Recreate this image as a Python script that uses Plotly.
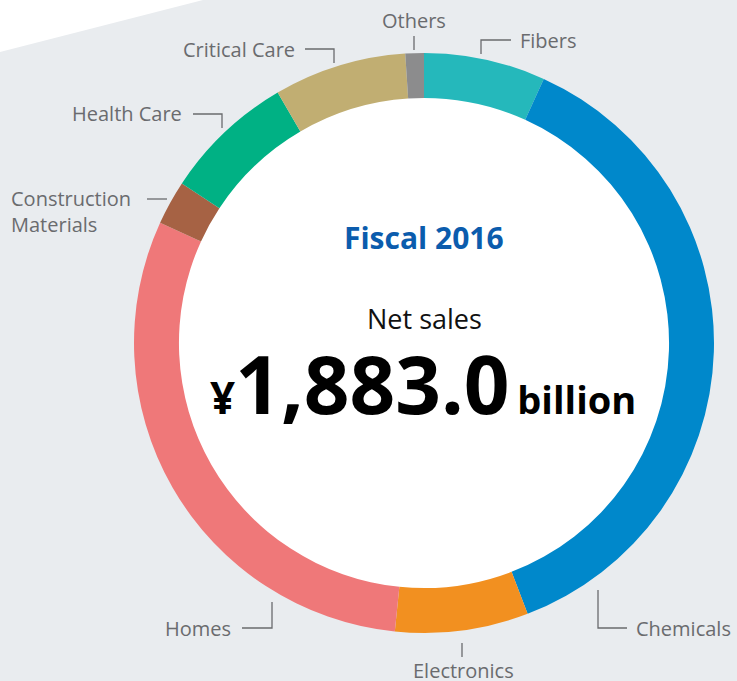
import plotly.graph_objects as go

# Net sales by segment, fiscal 2016 (¥ billion)
segments = ["Fibers", "Chemicals", "Electronics", "Homes",
            "Construction Materials", "Health Care", "Critical Care", "Others"]
sales = [127.6, 704.4, 139.7, 568.7, 46.5, 137.6, 139.1, 19.4]
total_label = "1,883.0"
fiscal_label = "Fiscal 2016"

colors = ["#25b8bb", "#0088cb", "#f29020", "#ef7879",
          "#a66244", "#00b184", "#c1ae72", "#8c8c8d"]

W, H = 737, 681
CX, CY, R = 424, 343, 290          # ring centre and outer radius (px)
HOLE = 0.845
LABEL_GRAY = "#6a6b6e"
FONT = "Open Sans"


def px(x):
    return x / W


def py(y):
    return 1 - y / H


fig = go.Figure()

fig.add_trace(go.Pie(
    labels=segments,
    values=sales,
    sort=False,
    direction="clockwise",
    rotation=0,
    hole=HOLE,
    marker=dict(colors=colors, line=dict(width=0)),
    textinfo="none",
    hoverinfo="label+value",
    showlegend=False,
    domain=dict(x=[px(CX - R), px(CX + R)], y=[py(CY + R), py(CY - R)]),
))

shapes = []
# light band in the top-left corner
shapes.append(dict(type="path", xref="paper", yref="paper",
                   path=f"M 0,1 L {px(203)},1 L 0,{py(52)} Z",
                   fillcolor="white", line=dict(width=0), layer="below"))
# white disc inside the ring
r_in = R * HOLE + 3
shapes.append(dict(type="circle", xref="paper", yref="paper",
                   x0=px(CX - r_in), x1=px(CX + r_in),
                   y0=py(CY + r_in), y1=py(CY - r_in),
                   fillcolor="white", line=dict(width=0), layer="below"))

# leader lines from each label to its slice (px coordinates)
leaders = [
    [(414, 36), (414, 50)],
    [(481, 54), (481, 40), (511, 40)],
    [(305, 49), (334, 49), (334, 63)],
    [(193, 114), (222, 114), (222, 128)],
    [(147, 199), (167, 199)],
    [(598, 590), (598, 628), (627, 628)],
    [(242, 628), (272, 628), (272, 602)],
    [(462, 643), (462, 657)],
]
for pts in leaders:
    path = "M " + " L ".join(f"{px(x)},{py(y)}" for x, y in pts)
    shapes.append(dict(type="path", xref="paper", yref="paper", path=path,
                       line=dict(color=LABEL_GRAY, width=1.3)))

annotations = []
# segment labels: (text, x, y, xanchor)
label_pos = [
    ("Others", 414, 20, "center"),
    ("Fibers", 518, 40, "left"),
    ("Critical Care", 297, 49, "right"),
    ("Health Care", 184, 114, "right"),
    ("Construction<br>Materials", 9, 212, "left"),
    ("Homes", 233, 628, "right"),
    ("Electronics", 463, 670, "center"),
    ("Chemicals", 634, 628, "left"),
]
for text, x, y, anchor in label_pos:
    annotations.append(dict(text=text, x=px(x), y=py(y), xref="paper", yref="paper",
                            xanchor=anchor, yanchor="middle", align="left",
                            showarrow=False,
                            font=dict(family=FONT, size=20, color=LABEL_GRAY)))

annotations.append(dict(text=f"<b>{fiscal_label}</b>", x=px(CX), y=py(237),
                        xref="paper", yref="paper", showarrow=False,
                        xanchor="center", yanchor="middle",
                        font=dict(family=FONT, size=30, color="#0b5cad")))
annotations.append(dict(text="Net sales", x=px(CX), y=py(318),
                        xref="paper", yref="paper", showarrow=False,
                        xanchor="center", yanchor="middle",
                        font=dict(family=FONT, size=27, color="#111111")))
annotations.append(dict(
    text=("<b><span style='font-size:44px'>¥</span>"
          f"<span style='font-size:80px'>{total_label}</span>"
          "<span style='font-size:30px'> </span>"
          "<span style='font-size:38px'>billion</span></b>"),
    x=px(423), y=py(382), xref="paper", yref="paper", showarrow=False,
    xanchor="center", yanchor="middle",
    font=dict(family=FONT, size=80, color="#000000")))

fig.update_layout(
    width=W, height=H,
    margin=dict(l=0, r=0, t=0, b=0),
    paper_bgcolor="#e9ecef",
    plot_bgcolor="#e9ecef",
    shapes=shapes,
    annotations=annotations,
)

fig.write_html("out.html")
